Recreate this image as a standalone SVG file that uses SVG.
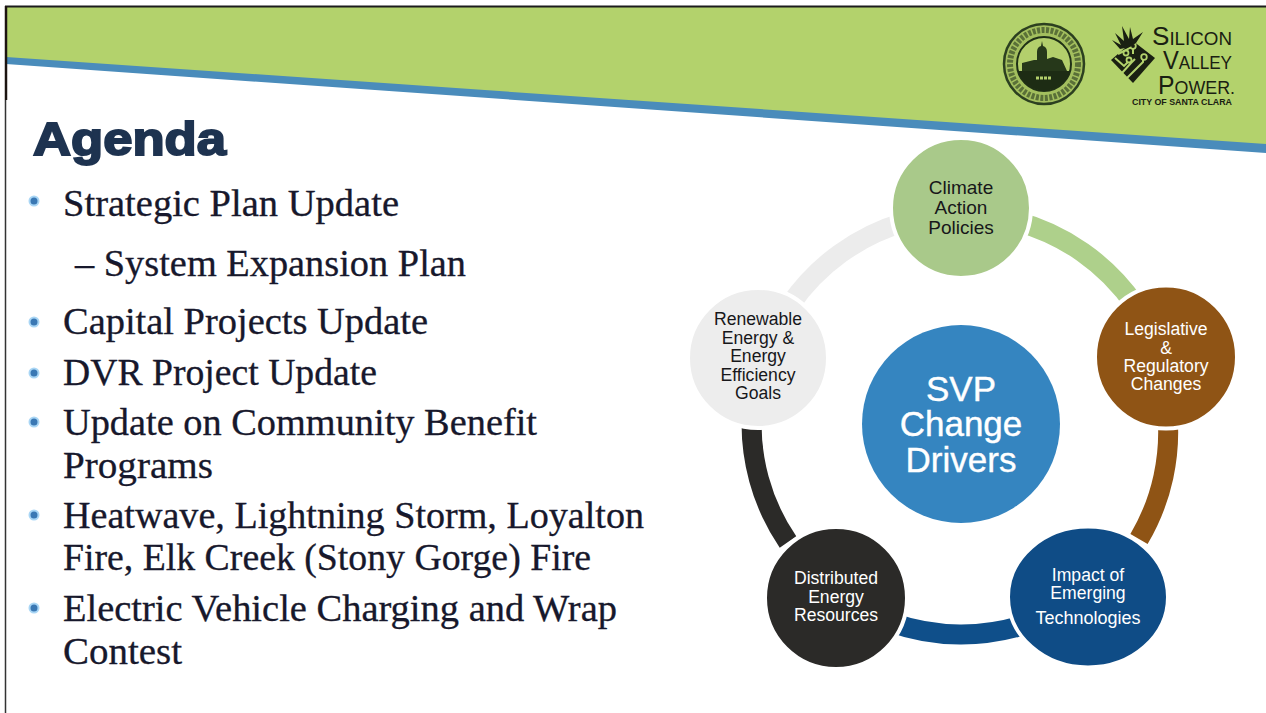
<svg xmlns="http://www.w3.org/2000/svg" width="1266" height="713" viewBox="0 0 1266 713">
<style>
.b{font-family:"Liberation Serif","Times New Roman",serif;font-size:37px;fill:#17182c;stroke:#17182c;stroke-width:.3}
.n{font-family:"Liberation Sans",Arial,sans-serif;font-size:17.600px;text-anchor:middle}
.d{fill:#17171a}.w{fill:#fff}
.big{font-family:"Liberation Sans",Arial,sans-serif;font-size:35px;text-anchor:middle;fill:#fff;stroke:#fff;stroke-width:.4}
.dot{fill:#3a78b4;stroke:#a9d6f5;stroke-width:2}
.arc{fill:none;stroke-width:20}
.halo{stroke:#fff;stroke-width:4}
.logo{font-family:"Liberation Sans",Arial,sans-serif;fill:#1a2012}
.ct{stroke:#b3d26c;stroke-width:2;fill:none}
.cn{fill:#1a2012;stroke:#b3d26c;stroke-width:1.800}
</style>
<rect width="1266" height="713" fill="#fff"/>
<g id="header">
<polygon points="6,7 1266,7 1266,150 6,60" fill="#b3d26c"/>
<polygon points="6,57 1266,144 1266,153 6,64" fill="#4a8cbb"/>
<path d="M5,6.500H1266" stroke="#1c1c1c" stroke-width="2" fill="none"/>
<path d="M6,6V100" stroke="#1c1410" stroke-width="2.500" fill="none"/>
<path d="M5.500,100V713" stroke="#333" stroke-width="1.500" fill="none"/>
</g>
<g id="seal">
<circle cx="1044" cy="64" r="40" fill="#a3bf5e" stroke="#2c4020" stroke-width="2.500"/>
<circle cx="1044" cy="64" r="34" fill="none" stroke="#5a7038" stroke-width="6" stroke-dasharray="3 1.500"/>
<circle cx="1044" cy="64" r="27" fill="#b3cf6c" stroke="#1f3016" stroke-width="2"/>
<path d="M1018,71H1070A27,27 0 0 1 1018,71Z" fill="#1d2c14"/>
<path d="M1022,71V63L1034,60H1037V52Q1037,47 1041,46L1042,41L1043,46Q1047,47 1047,52V59L1053,57L1062,60L1067,71Z" fill="#26381a"/>
<path d="M1036,78H1052" stroke="#b3cf6c" stroke-width="3" stroke-dasharray="3 1"/>
</g>
<g id="svp-logo">
<path d="M1111,60L1133,41L1155,58L1133,83Z" fill="#1a2012"/>
<path class="ct" d="M1115,58L1124,66L1129,61M1118,54L1126,50L1133,46V54M1122,73L1131,63L1135,59M1127,78L1143,62V57"/>
<circle class="cn" cx="1133" cy="46" r="2.800"/>
<circle class="cn" cx="1129" cy="60" r="2.500"/>
<circle class="cn" cx="1144" cy="57" r="2.800"/>
<circle class="cn" cx="1126" cy="53" r="2.500"/>
<path d="M1112,40L1121,45L1115,33L1124,41L1122,26L1129,39L1130,27L1133,39L1143,32L1136,43L1130,47L1120,49Z" fill="#1a2012"/>
<text class="logo" x="1152" y="45" textLength="80" lengthAdjust="spacingAndGlyphs"><tspan font-size="25">S</tspan><tspan font-size="18">ILICON</tspan></text>
<text class="logo" x="1163" y="69" textLength="69" lengthAdjust="spacingAndGlyphs"><tspan font-size="25">V</tspan><tspan font-size="18">ALLEY</tspan></text>
<text class="logo" x="1158" y="94" textLength="77" lengthAdjust="spacingAndGlyphs"><tspan font-size="25">P</tspan><tspan font-size="18">OWER.</tspan></text>
<text class="logo" x="1132" y="105" font-size="8.500" font-weight="bold" textLength="100" lengthAdjust="spacingAndGlyphs">CITY OF SANTA CLARA</text>
</g>
<g id="agenda">
<text x="33" y="155" font-family="'Liberation Sans',Arial,sans-serif" font-weight="bold" font-size="47" fill="#1e3350" stroke="#1e3350" stroke-width="2" textLength="193" lengthAdjust="spacingAndGlyphs">Agenda</text>
<circle class="dot" cx="34" cy="201" r="4.500"/>
<text class="b" x="63" y="216" textLength="336" lengthAdjust="spacingAndGlyphs">Strategic Plan Update</text>
<text class="b" x="75" y="276" textLength="391" lengthAdjust="spacingAndGlyphs">– System Expansion Plan</text>
<circle class="dot" cx="34" cy="322" r="4.500"/>
<text class="b" x="63" y="334" textLength="365" lengthAdjust="spacingAndGlyphs">Capital Projects Update</text>
<circle class="dot" cx="34" cy="373" r="4.500"/>
<text class="b" x="63" y="385" textLength="314" lengthAdjust="spacingAndGlyphs">DVR Project Update</text>
<circle class="dot" cx="34" cy="422" r="4.500"/>
<text class="b" x="63" y="435" textLength="474" lengthAdjust="spacingAndGlyphs">Update on Community Benefit</text>
<text class="b" x="63" y="478" textLength="150" lengthAdjust="spacingAndGlyphs">Programs</text>
<circle class="dot" cx="34" cy="515" r="4.500"/>
<text class="b" x="63" y="528" textLength="581" lengthAdjust="spacingAndGlyphs">Heatwave, Lightning Storm, Loyalton</text>
<text class="b" x="63" y="570" textLength="528" lengthAdjust="spacingAndGlyphs">Fire, Elk Creek (Stony Gorge) Fire</text>
<circle class="dot" cx="34" cy="608" r="4.500"/>
<text class="b" x="63" y="621" textLength="554" lengthAdjust="spacingAndGlyphs">Electric Vehicle Charging and Wrap</text>
<text class="b" x="63" y="664" textLength="119" lengthAdjust="spacingAndGlyphs">Contest</text>
</g>
<g id="connectors">
<path class="arc" stroke="#aed08b" d="M1015,221A210,210 0 0 1 1135,305"/>
<path class="arc" stroke="#8f5415" d="M1167,410A210,210 0 0 1 1139,539"/>
<path class="arc" stroke="#0f4f8a" d="M1030,623A210,210 0 0 1 890,622"/>
<path class="arc" stroke="#2b2a28" d="M788,542A210,210 0 0 1 752,410"/>
<path class="arc" stroke="#ececec" d="M790,305A210,210 0 0 1 905,222"/>
</g>
<g id="node-center">
<circle cx="961" cy="424" r="99" fill="#3585c0"/>
<text class="big" x="961" y="401">SVP</text>
<text class="big" x="961" y="436">Change</text>
<text class="big" x="961" y="472">Drivers</text>
</g>
<g id="node-climate">
<circle class="halo" cx="961" cy="208" r="70" fill="#a9c98a"/>
<text class="n d" x="961" y="194" style="font-size:19px">Climate</text>
<text class="n d" x="961" y="214" style="font-size:19px">Action</text>
<text class="n d" x="961" y="234" style="font-size:19px">Policies</text>
</g>
<g id="node-legislative">
<ellipse class="halo" cx="1166" cy="357" rx="71" ry="71.500" fill="#8f5415"/>
<text class="n w" x="1166" y="335">Legislative</text>
<text class="n w" x="1166" y="354">&amp;</text>
<text class="n w" x="1166" y="372">Regulatory</text>
<text class="n w" x="1166" y="390">Changes</text>
</g>
<g id="node-impact">
<ellipse class="halo" cx="1088" cy="597" rx="80" ry="70.500" fill="#0f4c86"/>
<text class="n w" x="1088" y="581">Impact of</text>
<text class="n w" x="1088" y="599">Emerging</text>
<text class="n w" x="1088" y="624" style="font-size:18px">Technologies</text>
</g>
<g id="node-distributed">
<circle class="halo" cx="836" cy="598" r="71" fill="#2b2a28"/>
<text class="n w" x="836" y="584">Distributed</text>
<text class="n w" x="836" y="603">Energy</text>
<text class="n w" x="836" y="621">Resources</text>
</g>
<g id="node-renewable">
<circle class="halo" cx="758" cy="358" r="70" fill="#ededed"/>
<text class="n d" x="758" y="325">Renewable</text>
<text class="n d" x="758" y="344">Energy &amp;</text>
<text class="n d" x="758" y="362">Energy</text>
<text class="n d" x="758" y="381">Efficiency</text>
<text class="n d" x="758" y="399">Goals</text>
</g>
</svg>
